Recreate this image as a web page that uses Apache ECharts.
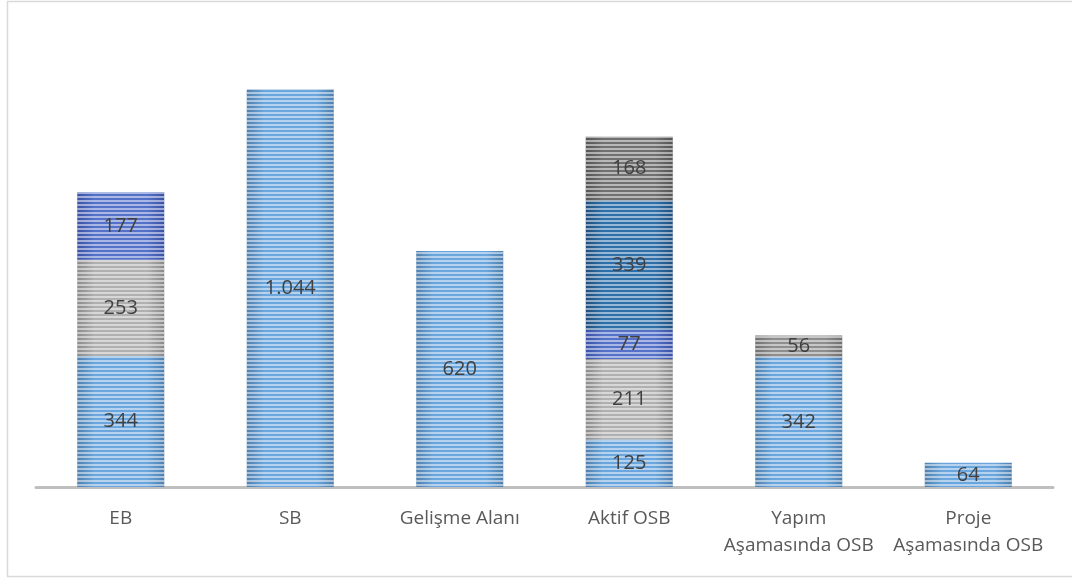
<!DOCTYPE html>
<html>
<head>
<meta charset="utf-8">
<script src="https://cdn.jsdelivr.net/npm/echarts@6/dist/echarts.min.js"></script>
<style>
    html, body { margin: 0; padding: 0; background: #fff; }
    #main { width: 1072px; height: 578px; }
</style>
</head>
<body>
<div id="main"></div>
<script>
// kategoriler ve seri değerleri
var categories = ['EB', 'SB', 'Gelişme Alanı', 'Aktif OSB', 'Yapım\nAşamasında OSB', 'Proje\nAşamasında OSB'];
var seriesA = [344, 1044, 620, 125, 342, 64];
var seriesB = [253, null, null, 211, 56, null];
var seriesC = [177, null, null, 77, null, null];
var seriesD = [null, null, null, 339, null, null];
var seriesE = [null, null, null, 168, null, null];

// renkler: [kenar, orta]
var palette = [
    ['#4f7fae', '#6aa6dd'],
    ['#8a8a8a', '#b0b0b0'],
    ['#3a52a6', '#5470c8'],
    ['#1f4f7d', '#2f6fa9'],
    ['#555555', '#707070']
];

// Türkçe binlik ayırıcı
var formatNumber = function(v) {
    return String(v).replace(/\B(?=(\d{3})+(?!\d))/g, '.');
};

var makeFill = function(c) {
    return new echarts.graphic.LinearGradient(0, 0, 1, 0, [
        { offset: 0, color: c[0] },
        { offset: 0.2, color: c[1] },
        { offset: 0.8, color: c[1] },
        { offset: 1, color: c[0] }
    ]);
};

var makeSeries = function(name, data, index) {
    return {
        name: name,
        type: 'bar',
        stack: 'total',
        barWidth: 87,
        data: data,
        itemStyle: {
            color: makeFill(palette[index]),
            decal: {
                symbol: 'rect',
                symbolSize: 1,
                dashArrayX: [1, 0],
                dashArrayY: [2, 2],
                rotation: 0,
                color: 'rgba(255, 255, 255, 0.5)'
            }
        },
        label: {
            show: true,
            position: 'inside',
            color: '#404040',
            fontSize: 20,
            fontFamily: 'Open Sans',
            formatter: function(p) {
                return formatNumber(p.value);
            }
        }
    };
};

var series = [
    makeSeries('A', seriesA, 0),
    makeSeries('B', seriesB, 1),
    makeSeries('C', seriesC, 2),
    makeSeries('D', seriesD, 3),
    makeSeries('E', seriesE, 4)
];
// Yapım Aşamasında OSB'deki gri dilim biraz daha koyu
series[1].data = seriesB.map(function(v, i) {
    if (i === 4) {
        return { value: v, itemStyle: { color: makeFill(['#707070', '#8e8e8e']) } };
    }
    return v;
});

var chart = echarts.init(document.getElementById('main'));
chart.setOption({
    animation: false,
    aria: { enabled: true, decal: { show: true } },
    graphic: [{
        type: 'rect',
        shape: { x: 7.5, y: 1.5, width: 1080, height: 575 },
        style: { fill: 'none', stroke: '#d9d9d9', lineWidth: 1.5 },
        silent: true
    }],
    grid: {
        left: 36,
        right: 19,
        top: 30,
        bottom: 91
    },
    xAxis: {
        type: 'category',
        data: categories,
        axisLine: { lineStyle: { color: '#bfbfbf', width: 3 } },
        axisTick: { show: false },
        axisLabel: {
            color: '#595959',
            fontSize: 19,
            fontFamily: 'Open Sans',
            margin: 18,
            lineHeight: 27,
            interval: 0
        }
    },
    yAxis: {
        type: 'value',
        min: 0,
        max: 1200,
        show: false
    },
    series: series
});
</script>
</body>
</html>
